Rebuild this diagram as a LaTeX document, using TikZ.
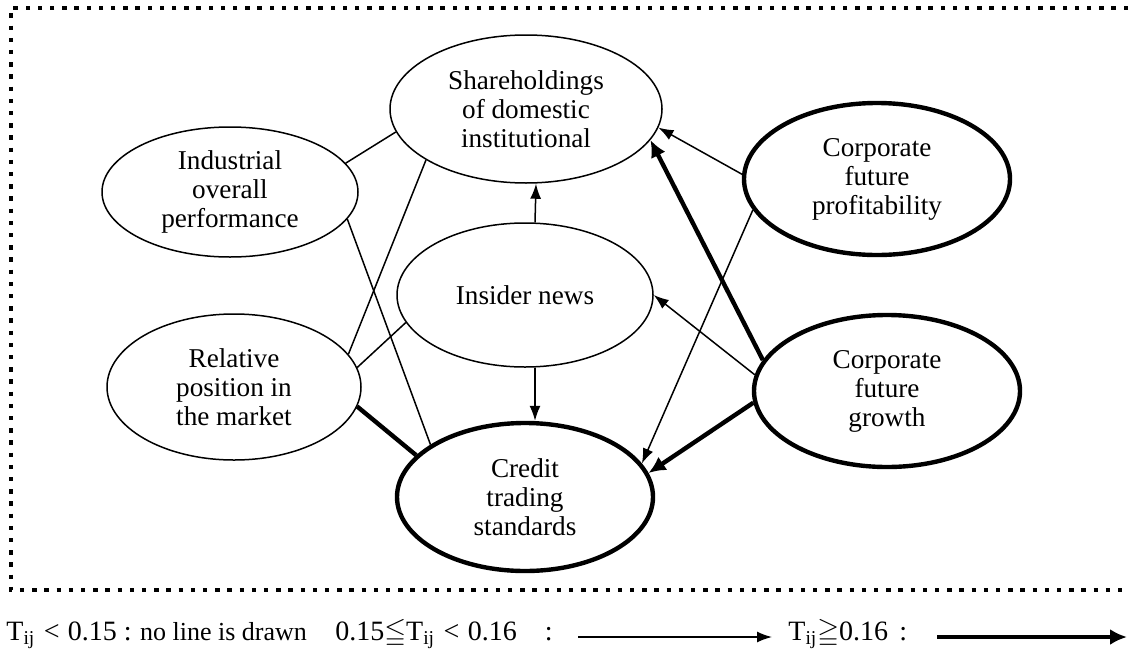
\documentclass[tikz,border=0pt]{standalone}
\usepackage{amssymb}
\usepackage{fontspec}
\setmainfont{Liberation Serif}
\usetikzlibrary{shapes.geometric,arrows.meta}
\newcommand{\wlt}{\hspace{0.3em}<\hspace{0.3em}}
\tikzset{
  factor/.style={ellipse,draw,line width=0.75pt,inner sep=0pt,
    align=center,font=\fontsize{13.6}{14.5}\selectfont},
  keyfactor/.style={factor,line width=2.2pt},
  weak/.style={line width=0.75pt},
  strong/.style={line width=2.2pt},
  weakarrow/.style={weak,-{Latex[length=7.5pt,width=5.5pt]}},
  strongarrow/.style={strong,-{Latex[length=8.5pt,width=8pt]}},
  legend/.style={font=\fontsize{14}{16}\selectfont,inner sep=0pt},
  frame/.style={line width=2.2pt,dash pattern=on 2.2pt off 3.9pt}
}
\begin{document}
\begin{tikzpicture}[x=0.5pt,y=-0.5pt]
  \useasboundingbox (0,0) rectangle (1128,653);
  % dotted frame, open on the right
  \draw[frame] (1128,8) -- (11,8) -- (11,590) -- (1128,590);

  % factors
  \node[factor,minimum width=136pt,minimum height=74pt] (share) at (526,109)
    {Shareholdings\\of domestic\\institutional};
  \node[factor,minimum width=128pt,minimum height=65pt] (indus) at (230,192)
    {Industrial\\overall\\performance};
  \node[factor,minimum width=127pt,minimum height=73pt] (relat) at (234,387)
    {Relative\\position in\\the market};
  \node[factor,minimum width=128pt,minimum height=72pt] (insider) at (525,295)
    {Insider news};
  \node[keyfactor,minimum width=128pt,minimum height=74pt] (credit) at (525,497)
    {Credit\\trading\\standards};
  \node[keyfactor,minimum width=133pt,minimum height=76pt] (profit) at (877,179)
    {Corporate\\future\\profitability};
  \node[keyfactor,minimum width=133pt,minimum height=76pt] (growth) at (887,391)
    {Corporate\\future\\growth};

  % links without direction
  \draw[weak] (indus.14) -- (share.190);
  \draw[weak] (indus.347) -- (credit.151);
  \draw[weak] (share.207) -- (relat.16);
  \draw[weak] (insider.193) -- (relat.9);
  \draw[strong] (relat.351) -- (credit.159);

  % directed links
  \draw[weakarrow] ([xshift=5pt]insider.north) -- ([xshift=5pt]share.south);
  \draw[weakarrow] ([xshift=5pt]insider.south) -- ([xshift=5pt]credit.north);
  \draw[weakarrow] (profit.178) -- (share.352);
  \draw[strongarrow] (growth.166) -- (share.346);
  \draw[weakarrow] (profit.194) -- (credit.16);
  \draw[weakarrow] (growth.173) -- (insider.east);
  \draw[strongarrow] (growth.185) -- (credit.11);

  % legend
  \node[legend,anchor=base west] (lowlab) at (6,640)
    {T\textsubscript{ij}\wlt0.15\hspace{0.25em}:\hspace{0.3em}{\fontsize{13}{16}\selectfont no line is drawn}};
  \node[legend,anchor=base west] (midlab) at (335,640)
    {0.15$\leqq$T\textsubscript{ij}\wlt0.16\hspace{1em}:};
  \coordinate (weakA) at (578,637);
  \coordinate (weakB) at (772,637);
  \draw[weakarrow] (weakA) -- (weakB);
  \node[legend,anchor=base west] (highlab) at (788,640)
    {T\textsubscript{ij}$\geqq$0.16\hspace{0.4em}:};
  \coordinate (strongA) at (937,637);
  \coordinate (strongB) at (1127,637);
  \draw[strongarrow] (strongA) -- (strongB);
\end{tikzpicture}
\end{document}
